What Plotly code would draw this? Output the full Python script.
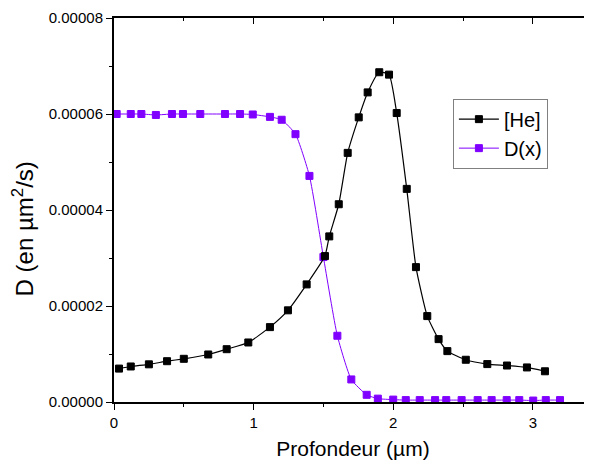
import plotly.graph_objects as go

x_he = [0.036, 0.12, 0.25, 0.38, 0.5, 0.675, 0.807, 0.962, 1.117, 1.246, 1.38, 1.511, 1.542, 1.61,
        1.674, 1.753, 1.817, 1.90, 1.97, 2.025, 2.097, 2.163, 2.244, 2.325, 2.388, 2.52, 2.674,
        2.815, 2.958, 3.087]
y_he = [6.96e-6, 7.4e-6, 7.85e-6, 8.5e-6, 9.0e-6, 9.9e-6, 1.10e-5, 1.24e-5, 1.56e-5, 1.91e-5,
        2.45e-5, 3.04e-5, 3.45e-5, 4.12e-5, 5.19e-5, 5.93e-5, 6.45e-5, 6.87e-5, 6.82e-5, 6.02e-5,
        4.44e-5, 2.81e-5, 1.79e-5, 1.31e-5, 1.06e-5, 8.8e-6, 7.9e-6, 7.6e-6, 7.2e-6, 6.4e-6]

x_d = [0.019, 0.12, 0.196, 0.30, 0.415, 0.494, 0.618, 0.795, 0.903, 0.994, 1.117, 1.201, 1.30,
       1.40, 1.50, 1.60, 1.70, 1.81, 1.89, 2.0, 2.09, 2.19, 2.30, 2.38, 2.49, 2.605, 2.705, 2.813,
       2.903, 3.003, 3.093, 3.195]
y_d = [6.0e-5, 6.0e-5, 6.0e-5, 5.98e-5, 6.0e-5, 6.0e-5, 6.0e-5, 6.0e-5, 6.0e-5, 5.99e-5, 5.94e-5,
       5.88e-5, 5.58e-5, 4.71e-5, 3.02e-5, 1.38e-5, 4.7e-6, 1.5e-6, 7e-7, 5e-7, 4e-7, 4e-7, 4e-7,
       4e-7, 4e-7, 4e-7, 4e-7, 4e-7, 4e-7, 3e-7, 4e-7, 4e-7]

y_ticks = [0, 0.00002, 0.00004, 0.00006, 0.00008]
y_ticktext = ["0.00000", "0.00002", "0.00004", "0.00006", "0.00008"]
x_ticks = [0, 1, 2, 3]

FONT = "Liberation Sans, Arial, sans-serif"
PURPLE = "#8000ff"

fig = go.Figure()
fig.add_trace(go.Scatter(
    x=x_d, y=y_d, name="D(x)", mode="lines+markers", legendrank=2,
    line=dict(color=PURPLE, width=1, shape="spline", smoothing=0.5),
    marker=dict(symbol="square", size=7, color=PURPLE, line=dict(color=PURPLE, width=1)),
))
fig.add_trace(go.Scatter(
    x=x_he, y=y_he, name="[He]", mode="lines+markers", legendrank=1,
    line=dict(color="black", width=1.2, shape="spline", smoothing=0.5),
    marker=dict(symbol="square", size=7, color="black", line=dict(color="black", width=1)),
))

xr = [0, 3.424]
fig.update_layout(
    width=584, height=452,
    margin=dict(l=106, r=0, t=10, b=58),
    paper_bgcolor="white", plot_bgcolor="white",
    font=dict(family=FONT, color="black"),
    showlegend=True,
    legend=dict(x=0.709, y=0.79, xanchor="left", yanchor="top", itemwidth=40,
                bordercolor="#808080", borderwidth=1, bgcolor="rgba(0,0,0,0)",
                font=dict(size=20, family=FONT), tracegroupgap=0),
    xaxis=dict(range=xr, tickvals=x_ticks, ticks="outside", ticklen=6, tickwidth=1,
               tickcolor="black", showline=True, linecolor="black", linewidth=2,
               showgrid=False, zeroline=False, tickfont=dict(size=15),
               minor=dict(dtick=0.5, tick0=0, ticks="outside", ticklen=3, tickcolor="black"),
               title=dict(text="Profondeur (µm)", font=dict(size=21), standoff=12)),
    xaxis2=dict(range=xr, overlaying="x", side="top", tickvals=x_ticks, ticks="inside",
                ticklen=6, tickwidth=1, tickcolor="black", showticklabels=False,
                showline=True, linecolor="black", linewidth=2, showgrid=False, zeroline=False,
                minor=dict(dtick=0.5, tick0=0, ticks="inside", ticklen=3, tickcolor="black")),
    yaxis=dict(range=[0, 0.00008], tickvals=y_ticks, ticktext=y_ticktext, ticks="outside",
               ticklen=6, tickwidth=1, tickcolor="black", showline=True, linecolor="black",
               linewidth=2, showgrid=False, zeroline=False, tickfont=dict(size=15),
               minor=dict(dtick=0.00001, tick0=0, ticks="outside", ticklen=3, tickcolor="black")),
    annotations=[dict(text="D (en µm<sup>2</sup>/s)", textangle=-90, xref="paper", yref="paper",
                      x=-0.19, y=0.45, xanchor="center", yanchor="middle", showarrow=False,
                      font=dict(size=24, family=FONT))],
)
fig.add_trace(go.Scatter(x=[None], y=[None], xaxis="x2", showlegend=False, hoverinfo="skip"))

fig.write_html("out.html")
